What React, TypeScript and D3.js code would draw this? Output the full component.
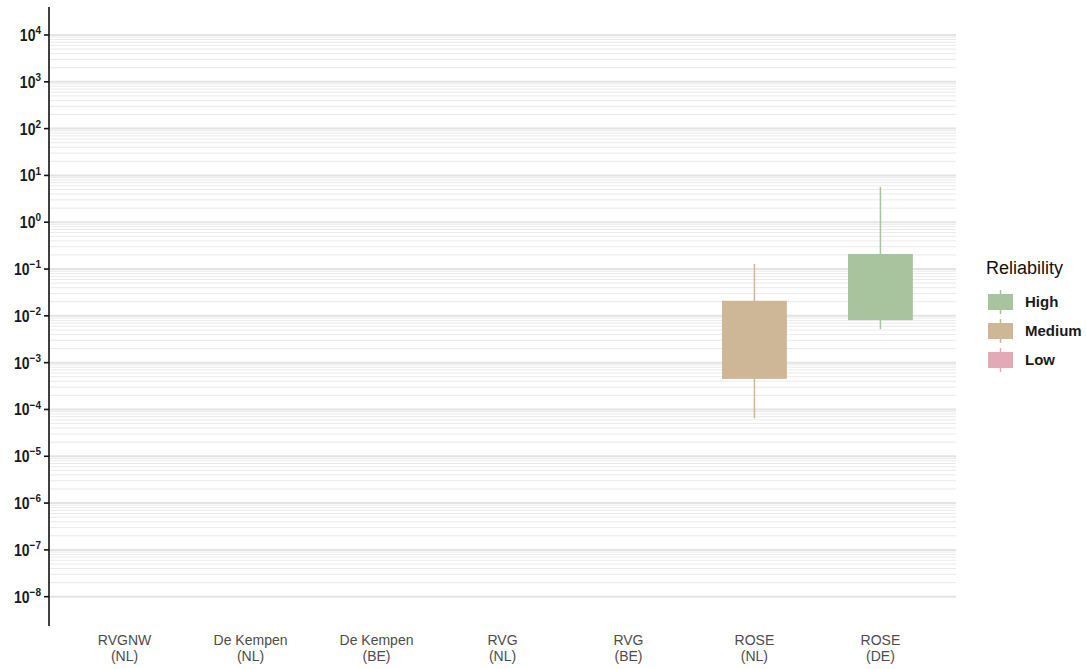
import React from "react";
import * as d3 from "d3";

// sites on the x axis (two-line labels)
const siteNames = ["RVGNW", "De Kempen", "De Kempen", "RVG", "RVG", "ROSE", "ROSE"];
const siteCountries = ["(NL)", "(NL)", "(BE)", "(NL)", "(BE)", "(NL)", "(DE)"];

// box / whisker values per site (null = no data)
const reliability = [null, null, null, null, null, "Medium", "High"];
const whiskerMin = [null, null, null, null, null, 6.5e-5, 5.2e-3];
const boxMin = [null, null, null, null, null, 4.5e-4, 8.1e-3];
const boxMax = [null, null, null, null, null, 0.021, 0.21];
const whiskerMax = [null, null, null, null, null, 0.128, 5.7];

// legend
const levels = ["High", "Medium", "Low"];
const levelColors = ["#a8c49f", "#cdb796", "#e3a9b4"];

// y axis decades
const decades = d3.range(-8, 5);

const W = 1086;
const H = 669;
const panel = { left: 49, right: 956, top: 7, bottom: 626 };

export default function App() {
  const keys = siteNames.map((d, i) => `${d} ${siteCountries[i]}`);
  const x = d3.scalePoint<string>().domain(keys).range([panel.left, panel.right]).padding(0.6);
  const y = d3
    .scaleLog()
    .domain([Math.pow(10, -8.626), Math.pow(10, 4.598)])
    .range([panel.bottom, panel.top]);
  const color = d3.scaleOrdinal<string, string>().domain(levels).range(levelColors);
  const boxW = x.step() * 0.515;

  const minor: number[] = [];
  decades.slice(0, -1).forEach(e => {
    d3.range(2, 10).forEach(k => minor.push(k * Math.pow(10, e)));
  });

  const font = "'Liberation Sans', Arial, sans-serif";

  return (
    <div style={{ position: "absolute", left: 0, top: 0 }}>
      <svg width={W} height={H} style={{ display: "block", background: "#fff" }}>
        {/* grid */}
        <g>
          {minor.map((v, i) => (
            <line key={"m" + i} x1={panel.left} x2={panel.right} y1={y(v)} y2={y(v)} stroke="#eaeaea" strokeWidth={1} />
          ))}
          {decades.map(e => (
            <line
              key={"M" + e}
              x1={panel.left}
              x2={panel.right}
              y1={y(Math.pow(10, e))}
              y2={y(Math.pow(10, e))}
              stroke="#e4e4e4"
              strokeWidth={2}
            />
          ))}
        </g>

        {/* boxes */}
        <g>
          {keys.map((k, i) => {
            if (reliability[i] == null) return null;
            const c = color(reliability[i] as string);
            const cx = x(k) as number;
            return (
              <g key={k}>
                <line x1={cx} x2={cx} y1={y(whiskerMax[i] as number)} y2={y(whiskerMin[i] as number)} stroke={c} strokeWidth={1.5} />
                <rect
                  x={cx - boxW / 2}
                  width={boxW}
                  y={y(boxMax[i] as number)}
                  height={y(boxMin[i] as number) - y(boxMax[i] as number)}
                  fill={c}
                />
              </g>
            );
          })}
        </g>

        {/* y axis */}
        <line x1={panel.left} x2={panel.left} y1={panel.top} y2={panel.bottom} stroke="#111" strokeWidth={1.6} />
        {decades.map(e => {
          const yy = y(Math.pow(10, e));
          return (
            <g key={"t" + e}>
              <line x1={panel.left - 5} x2={panel.left} y1={yy} y2={yy} stroke="#111" strokeWidth={1.6} />
              <text
                transform={`translate(41,${yy + 6}) scale(1,1.15)`}
                textAnchor="end"
                fontFamily={font}
                fontWeight="bold"
                fontSize={14}
                fill="#1a1a1a"
              >
                10
                <tspan dy={-6} fontSize={10}>
                  {e < 0 ? "\u2212" + Math.abs(e) : String(e)}
                </tspan>
              </text>
            </g>
          );
        })}

        {/* x labels */}
        {keys.map((k, i) => (
          <g key={"x" + k} fontFamily={font} fontSize={14} fill="#4d4d4d" textAnchor="middle">
            <text x={x(k)} y={645}>
              {siteNames[i]}
            </text>
            <text x={x(k)} y={661}>
              {siteCountries[i]}
            </text>
          </g>
        ))}

        {/* legend */}
        <text x={986} y={274} fontFamily={font} fontSize={18} fill="#111">
          Reliability
        </text>
        {levels.map((l, i) => {
          const cy = 302 + i * 29;
          return (
            <g key={l}>
              <line x1={1000.5} x2={1000.5} y1={cy - 12} y2={cy + 12} stroke={color(l)} strokeWidth={1.5} />
              <rect x={988} y={cy - 8} width={25} height={16} fill={color(l)} />
              <text x={1025} y={cy + 5} fontFamily={font} fontWeight="bold" fontSize={15} fill="#1a1a1a">
                {l}
              </text>
            </g>
          );
        })}
      </svg>
    </div>
  );
}
